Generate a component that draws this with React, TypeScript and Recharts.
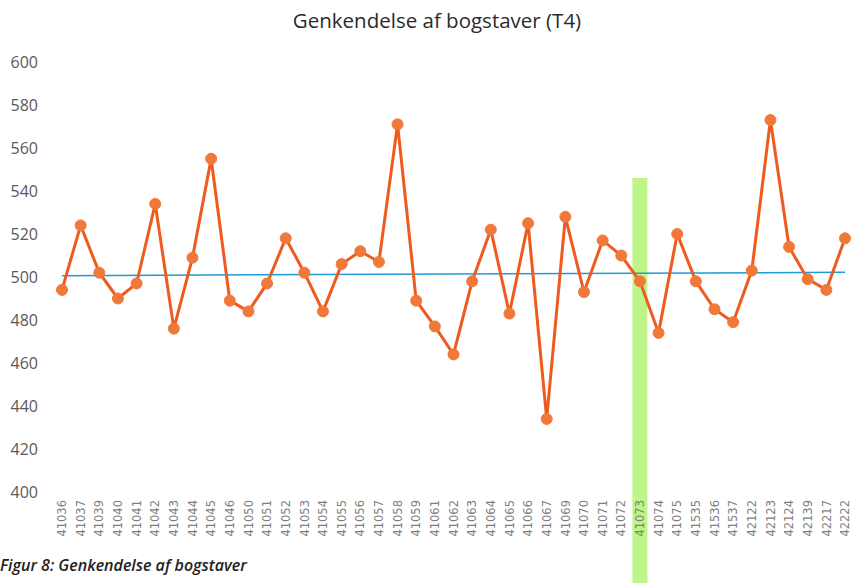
import { LineChart, Line, XAxis, YAxis, ReferenceLine } from "recharts";

const students = [
  "41036", "41037", "41039", "41040", "41041", "41042", "41043", "41044", "41045", "41046",
  "41050", "41051", "41052", "41053", "41054", "41055", "41056", "41057", "41058", "41059",
  "41061", "41062", "41063", "41064", "41065", "41066", "41067", "41069", "41070", "41071",
  "41072", "41073", "41074", "41075", "41535", "41536", "41537", "42122", "42123", "42124",
  "42139", "42217", "42222",
];

const scores = [
  494, 524, 502, 490, 497, 534, 476, 509, 555, 489,
  484, 497, 518, 502, 484, 506, 512, 507, 571, 489,
  477, 464, 498, 522, 483, 525, 434, 528, 493, 517,
  510, 498, 474, 520, 498, 485, 479, 503, 573, 514,
  499, 494, 518,
];

const yTicks = [400, 420, 440, 460, 480, 500, 520, 540, 560, 580, 600];

// trend line ends (blue), and the highlighted student
const trendStart = 500.6;
const trendEnd = 502.2;
const marked = "41073";

const data = students.map((s, i) => ({ name: s, score: scores[i] }));

export default function App() {
  return (
    <div style={{ position: "absolute", left: 0, top: 0, width: 852, height: 583, background: "#fff" }}>
      <div
        style={{
          position: "absolute",
          top: 6,
          left: 0,
          width: 874,
          textAlign: "center",
          fontFamily: "'Open Sans', sans-serif",
          fontSize: 20.5,
          color: "#2b2b2b",
        }}
      >
        Genkendelse af bogstaver (T4)
      </div>
      <LineChart width={852} height={583} data={data} margin={{ top: 62, right: 7, bottom: 31, left: 0 }}>
        <YAxis
          domain={[400, 600]}
          ticks={yTicks}
          axisLine={false}
          tickLine={false}
          tickSize={0}
          tickMargin={24}
          width={62}
          tick={{ fontSize: 16, fill: "#595959", fontFamily: "'Open Sans', sans-serif" }}
        />
        <XAxis
          dataKey="name"
          interval={0}
          axisLine={false}
          tickLine={false}
          tickSize={0}
          tickMargin={8}
          height={60}
          angle={-90}
          textAnchor="end"
          tick={{ fontSize: 11.5, fill: "#7f7f7f", fontFamily: "'DejaVu Sans', sans-serif", dx: -4 }}
        />
        <ReferenceLine
          segment={[{ x: marked, y: 546 }, { x: marked, y: 357 }]}
          ifOverflow="visible"
          stroke="#bdf588"
          strokeWidth={15}
        />
        <ReferenceLine
          segment={[{ x: students[0], y: trendStart }, { x: students[students.length - 1], y: trendEnd }]}
          ifOverflow="visible"
          stroke="#1f9bd7"
          strokeWidth={1.5}
        />
        <Line
          dataKey="score"
          stroke="#ef5a1e"
          strokeWidth={3}
          dot={{ r: 5.5, fill: "#f0793a", stroke: "#f0793a", strokeWidth: 1 }}
          isAnimationActive={false}
        />
      </LineChart>
      <div
        style={{
          position: "absolute",
          top: 554,
          left: 0,
          fontFamily: "'Open Sans', sans-serif",
          fontSize: 16,
          fontStyle: "italic",
          fontWeight: 600,
          color: "#222",
        }}
      >
        Figur 8: Genkendelse af bogstaver
      </div>
    </div>
  );
}
